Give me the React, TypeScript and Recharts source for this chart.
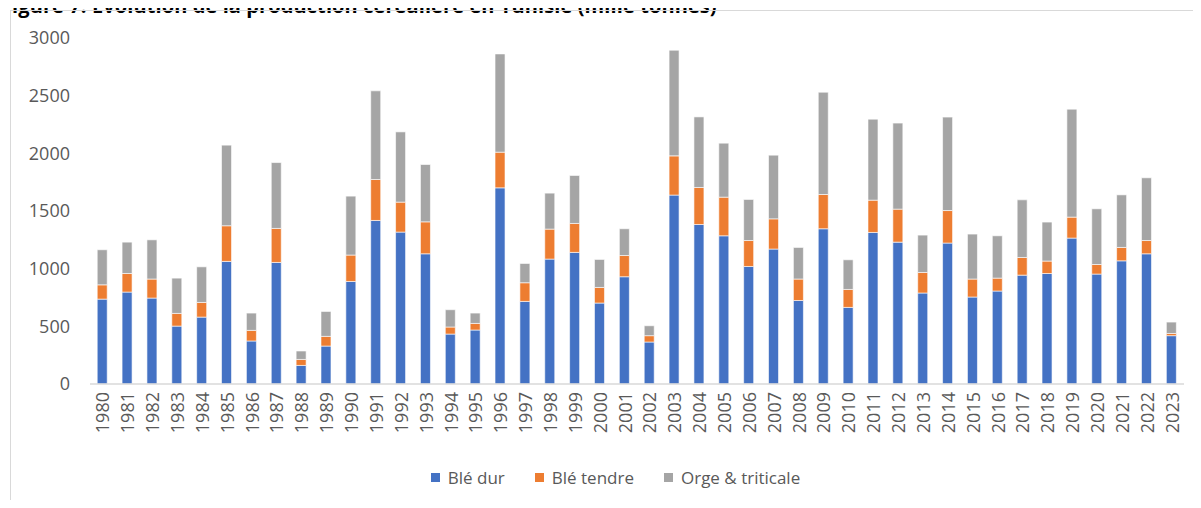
import { BarChart, Bar, XAxis, YAxis, Legend } from 'recharts';

const years = [
  '1980', '1981', '1982', '1983', '1984', '1985', '1986', '1987', '1988', '1989',
  '1990', '1991', '1992', '1993', '1994', '1995', '1996', '1997', '1998', '1999',
  '2000', '2001', '2002', '2003', '2004', '2005', '2006', '2007', '2008', '2009',
  '2010', '2011', '2012', '2013', '2014', '2015', '2016', '2017', '2018', '2019',
  '2020', '2021', '2022', '2023',
];

const bleDur = [
  736, 797, 745, 502, 580, 1063, 373, 1054, 161, 329,
  889, 1418, 1317, 1129, 433, 468, 1701, 716, 1083, 1141,
  702, 930, 364, 1638, 1383, 1285, 1019, 1170, 724, 1346,
  664, 1314, 1230, 789, 1222, 754, 806, 944, 958, 1265,
  953, 1068, 1129, 419,
];

const bleTendre = [
  124, 161, 165, 110, 127, 309, 92, 295, 52, 84,
  229, 355, 260, 277, 61, 57, 309, 162, 260, 251,
  135, 184, 55, 340, 321, 335, 225, 262, 186, 297,
  156, 280, 286, 178, 282, 156, 112, 153, 108, 182,
  83, 116, 115, 19,
];

const orge = [
  304, 272, 340, 306, 309, 699, 150, 571, 73, 216,
  511, 769, 609, 497, 150, 90, 852, 167, 312, 416,
  243, 232, 86, 916, 612, 468, 356, 552, 274, 887,
  257, 702, 746, 324, 810, 390, 367, 500, 338, 936,
  483, 456, 544, 99,
];

const yTicks = [0, 500, 1000, 1500, 2000, 2500, 3000];

const series = [
  { key: 'dur', name: 'Blé dur', color: '#4472C4' },
  { key: 'tendre', name: 'Blé tendre', color: '#ED7D31' },
  { key: 'orge', name: 'Orge & triticale', color: '#A5A5A5' },
];

const data = years.map((year, i) => ({
  year,
  dur: bleDur[i],
  tendre: bleTendre[i],
  orge: orge[i],
}));

const FONT = '"Open Sans", sans-serif';
const TEXT = '#595959';

function YearTick({ x, y, payload }: any) {
  return (
    <text
      x={x}
      y={y}
      transform={`rotate(-90 ${x} ${y})`}
      textAnchor="end"
      dominantBaseline="central"
      fill={TEXT}
      fontSize={18}
      fontFamily={FONT}
    >
      {payload.value}
    </text>
  );
}

function LegendContent() {
  return (
    <div style={{ display: 'flex', justifyContent: 'center', gap: 30, fontFamily: FONT, fontSize: 17, color: TEXT }}>
      {series.map((s) => (
        <div key={s.key} style={{ display: 'flex', alignItems: 'center' }}>
          <span style={{ width: 9, height: 9, background: s.color, marginRight: 8, display: 'inline-block' }} />
          <span>{s.name}</span>
        </div>
      ))}
    </div>
  );
}

export default function App() {
  return (
    <div style={{ position: 'relative', width: 1201, height: 508, margin: -8, overflow: 'hidden', background: '#fff' }}>
      <div
        style={{
          position: 'absolute',
          left: 1,
          top: -4,
          lineHeight: '20px',
          whiteSpace: 'nowrap',
          fontFamily: FONT,
          fontWeight: 700,
          fontSize: 20,
          letterSpacing: 0.1,
          color: '#000',
        }}
      >
        Figure 7: Évolution de la production céréalière en Tunisie (mille tonnes)
      </div>
      <div
        style={{
          position: 'absolute',
          left: 10,
          top: 10,
          width: 1300,
          height: 600,
          borderLeft: '1.5px solid #d9d9d9',
          borderTop: '1.5px solid #d9d9d9',
        }}
      />
      <div style={{ position: 'absolute', left: 0, top: 0 }}>
        <BarChart
          width={1201}
          height={508}
          data={data}
          margin={{ top: 38, right: 17, bottom: 64, left: 10 }}
          barCategoryGap="29%"
        >
          <XAxis
            dataKey="year"
            interval={0}
            height={60}
            tickSize={0}
            tickMargin={8}
            tick={<YearTick />}
            axisLine={{ stroke: '#d9d9d9', strokeWidth: 1.5 }}
          />
          <YAxis
            width={80}
            domain={[0, 3000]}
            ticks={yTicks}
            axisLine={false}
            tickLine={false}
            tickSize={0}
            tickMargin={20}
            tick={{ fill: TEXT, fontSize: 18, fontFamily: FONT }}
          />
          <Legend
            layout="horizontal"
            verticalAlign="middle"
            align="center"
            content={<LegendContent />}
            wrapperStyle={{ top: 466, left: 0, width: 1231 }}
          />
          {series.map((s) => (
            <Bar
              key={s.key}
              dataKey={s.key}
              name={s.name}
              stackId="a"
              fill={s.color}
              stroke="#fff"
              strokeWidth={0.6}
              isAnimationActive={false}
            />
          ))}
        </BarChart>
      </div>
    </div>
  );
}
